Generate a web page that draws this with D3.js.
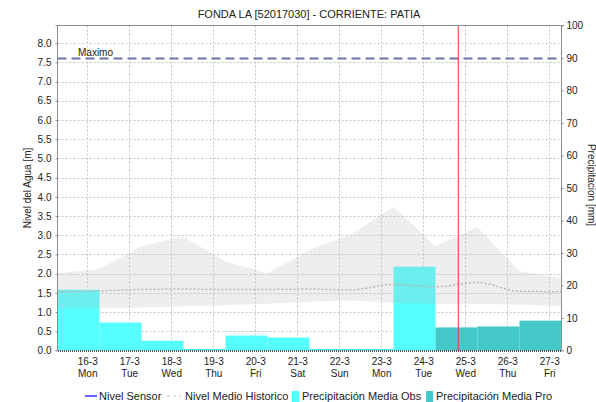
<!DOCTYPE html>
<html>
<head>
<meta charset="utf-8">
<script src="https://cdn.jsdelivr.net/npm/d3@7/dist/d3.min.js"></script>
<style>
  body { margin: 0; background: #fff; }
  svg text { font-family: "Liberation Sans", Arial, sans-serif; fill: #222; }
</style>
</head>
<body>
<svg id="svg" width="596" height="402"></svg>
<script>
// day labels on the x axis
const dayLabels = ['16-3','17-3','18-3','19-3','20-3','21-3','22-3','23-3','24-3','25-3','26-3','27-3'];
const weekDays = ['Mon','Tue','Wed','Thu','Fri','Sat','Sun','Mon','Tue','Wed','Thu','Fri'];

// daily precipitation (mm), each bar runs 07:00 -> 07:00 starting 15-3
const obsPrecip = [18.7, 8.6, 3.0, 0.5, 4.6, 4.0, 0.5, 0.5, 25.8];
const proPrecip = [7.1, 7.4, 9.2];

// historical level band (m), points at 07:00 from 15-3 to 27-3
const histMin = [1.12, 1.10, 1.12, 1.15, 1.18, 1.22, 1.27, 1.30, 1.24, 1.22, 1.21, 1.19, 1.16];
const histMax = [2.01, 2.12, 2.72, 2.96, 2.32, 2.01, 2.62, 3.02, 3.74, 2.72, 3.21, 2.06, 1.88];
const histMean = [1.52, 1.55, 1.59, 1.60, 1.59, 1.59, 1.60, 1.58, 1.72, 1.66, 1.77, 1.54, 1.53];

const maxLevel = 7.6;
const leftTicks = d3.range(0, 8.01, 0.5);
const rightTicks = d3.range(0, 101, 10);
const nowTime = new Date(2020, 2, 24, 20, 0);

const svg = d3.select('#svg');
const pLeft = 57.5, pRight = 561.5, pTop = 25.5, pBottom = 350.5;

const x = d3.scaleTime()
    .domain([new Date(2020, 2, 15, 7), new Date(2020, 2, 27, 7)])
    .range([pLeft, pRight]);
const yL = d3.scaleLinear().domain([0, 8.46]).range([pBottom, pTop]);
const yR = d3.scaleLinear().domain([0, 100]).range([pBottom, pTop]);

function dayAt(i, h) { return new Date(2020, 2, 15 + i, h); }
const tickDates = dayLabels.map((d, i) => dayAt(i + 1, 0));

// grid
const grid = svg.append('g');
grid.selectAll('.hg').data(leftTicks.slice(1)).join('line')
    .attr('x1', pLeft).attr('x2', pRight)
    .attr('y1', d => Math.round(yL(d)) + 0.5).attr('y2', d => Math.round(yL(d)) + 0.5)
    .attr('stroke', '#c4c4c4').attr('stroke-dasharray', '2,2');
grid.selectAll('.vg').data(tickDates).join('line')
    .attr('x1', d => Math.round(x(d)) + 0.5).attr('x2', d => Math.round(x(d)) + 0.5)
    .attr('y1', pTop).attr('y2', pBottom)
    .attr('stroke', '#c4c4c4').attr('stroke-dasharray', '2,2');

// precipitation bars
svg.selectAll('.obs').data(obsPrecip).join('rect')
    .attr('x', (d, i) => x(dayAt(i, 7)))
    .attr('width', (d, i) => x(dayAt(i + 1, 7)) - x(dayAt(i, 7)))
    .attr('y', d => yR(d))
    .attr('height', d => pBottom - yR(d))
    .attr('fill', '#55ffff');
svg.selectAll('.pro').data(proPrecip).join('rect')
    .attr('x', (d, i) => x(dayAt(i + obsPrecip.length, 7)))
    .attr('width', (d, i) => x(dayAt(i + obsPrecip.length + 1, 7)) - x(dayAt(i + obsPrecip.length, 7)))
    .attr('y', d => yR(d))
    .attr('height', d => pBottom - yR(d))
    .attr('fill', '#44c8c8');

// historical band
const band = histMin.map((d, i) => ({t: dayAt(i, 7), lo: d, hi: histMax[i], mean: histMean[i]}));
svg.append('path').datum(band)
    .attr('d', d3.area().x(d => x(d.t)).y0(d => yL(d.lo)).y1(d => yL(d.hi)))
    .attr('fill', 'rgba(185,185,185,0.24)');
svg.append('path').datum(band)
    .attr('d', d3.line().x(d => x(d.t)).y(d => yL(d.mean)).curve(d3.curveMonotoneX))
    .attr('fill', 'none').attr('stroke', '#b8b8b8').attr('stroke-width', 1.5)
    .attr('stroke-dasharray', '2,2');

// maximum level
svg.append('line')
    .attr('x1', pLeft).attr('x2', pRight)
    .attr('y1', yL(maxLevel)).attr('y2', yL(maxLevel))
    .attr('stroke', '#6b76a6').attr('stroke-width', 2).attr('stroke-dasharray', '9,5');
svg.append('text').attr('x', 78).attr('y', 56).attr('font-size', 10).text('Maximo');

// current time
svg.append('line')
    .attr('x1', x(nowTime)).attr('x2', x(nowTime))
    .attr('y1', pTop).attr('y2', pBottom)
    .attr('stroke', '#ff3030').attr('stroke-width', 1);

// frame
svg.append('line').attr('x1', pLeft).attr('x2', pRight).attr('y1', pTop).attr('y2', pTop).attr('stroke', '#8c8c8c');

// axes
const axL = svg.append('g').attr('transform', `translate(${pLeft},0)`)
    .call(d3.axisLeft(yL).tickValues(leftTicks).tickFormat(d3.format('.1f')).tickSize(2).tickPadding(4));
const axR = svg.append('g').attr('transform', `translate(${pRight},0)`)
    .call(d3.axisRight(yR).tickValues(rightTicks).tickSize(2).tickPadding(3));
[axL, axR].forEach(a => {
    a.select('.domain').attr('stroke', '#8c8c8c');
    a.selectAll('.tick line').attr('stroke', '#8c8c8c');
    a.selectAll('.tick text').attr('font-size', 10).attr('fill', '#222')
        .attr('font-family', '"Liberation Sans", Arial, sans-serif');
});
axL.select('.domain').attr('d', `M-2,${pTop}H0V${pBottom}H-2`);
axR.select('.domain').attr('d', `M2,${pTop}H0V${pBottom}H2`);

const axB = svg.append('g').attr('transform', `translate(0,${pBottom})`)
    .call(d3.axisBottom(x).tickValues(tickDates).tickSize(0).tickFormat(''));
axB.select('.domain').attr('stroke', '#222').attr('stroke-dasharray', '1,1').attr('stroke-width', 1.5);
axB.selectAll('.tick').each(function(d, i) {
    const t = d3.select(this).append('text').attr('fill', '#222').attr('font-size', 10)
        .attr('text-anchor', 'middle').attr('font-family', '"Liberation Sans", Arial, sans-serif');
    t.append('tspan').attr('x', 0).attr('y', 14).text(dayLabels[i]);
    t.append('tspan').attr('x', 0).attr('y', 26).text(weekDays[i]);
});

// titles
svg.append('text').attr('x', 309).attr('y', 18).attr('text-anchor', 'middle')
    .attr('font-size', 11).text('FONDA LA [52017030] - CORRIENTE: PATIA');
svg.append('text').attr('transform', 'translate(31,188) rotate(-90)').attr('text-anchor', 'middle')
    .attr('font-size', 10).text('Nivel del Agua [m]');
svg.append('text').attr('transform', 'translate(588,185) rotate(90)').attr('text-anchor', 'middle')
    .attr('font-size', 10).text('Precipitacion [mm]');

// legend
const legendY = 396;
const lg = svg.append('g').attr('font-size', 11);
lg.append('line').attr('x1', 85).attr('x2', 97).attr('y1', legendY).attr('y2', legendY)
    .attr('stroke', '#0000ff').attr('stroke-width', 1.2);
lg.append('text').attr('x', 99).attr('y', legendY + 4).text('Nivel Sensor');
lg.append('line').attr('x1', 167).attr('x2', 181).attr('y1', legendY).attr('y2', legendY)
    .attr('stroke', '#c8c8c8').attr('stroke-width', 1.2).attr('stroke-dasharray', '3,3');
lg.append('text').attr('x', 185).attr('y', legendY + 4).text('Nivel Medio Historico');
lg.append('rect').attr('x', 292).attr('y', legendY - 5).attr('width', 7).attr('height', 11).attr('fill', '#55ffff');
lg.append('text').attr('x', 302).attr('y', legendY + 4).text('Precipitación Media Obs');
lg.append('rect').attr('x', 426).attr('y', legendY - 5).attr('width', 7).attr('height', 11).attr('fill', '#44c8c8');
lg.append('text').attr('x', 436).attr('y', legendY + 4).text('Precipitación Media Pro');
</script>
</body>
</html>
